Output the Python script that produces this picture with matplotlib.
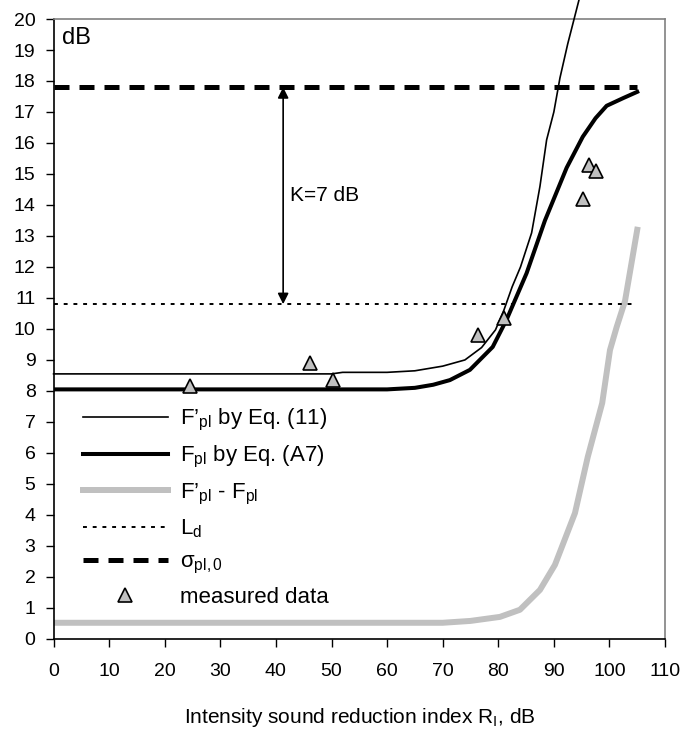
import numpy as np
import matplotlib
matplotlib.use("Agg")
import matplotlib.pyplot as plt

plt.rcParams['font.family'] = ['Liberation Sans', 'DejaVu Sans']
plt.rcParams['mathtext.fontset'] = 'custom'
plt.rcParams['mathtext.rm'] = 'Liberation Sans'
plt.rcParams['mathtext.it'] = 'Liberation Sans:italic'

# F'pl by Eq. (11)
x_thin = [0, 50, 52, 60, 65, 70, 74, 77, 79.5, 81, 82.5, 84, 86, 87.5, 88.7, 90, 91.1, 92.5, 94.5]
y_thin = [8.55, 8.55, 8.6, 8.6, 8.65, 8.8, 9.0, 9.4, 9.97, 10.6, 11.36, 12.0, 13.1, 14.6, 16.1, 17.0, 18.1, 19.2, 20.6]

# Fpl by Eq. (A7)
x_thick = [0, 60, 65, 68.3, 71.3, 74.9, 79, 81.5, 85.1, 88.4, 92.3, 95.2, 97.5, 99.5, 102.5, 105]
y_thick = [8.05, 8.05, 8.1, 8.2, 8.35, 8.68, 9.42, 10.3, 11.8, 13.5, 15.2, 16.2, 16.8, 17.2, 17.45, 17.65]

# F'pl - Fpl
x_diff = [0, 70, 75, 80.3, 83.9, 87.5, 90.2, 93.8, 96.1, 98.7, 100.1, 101.3, 102.8, 105]
y_diff = [0.52, 0.52, 0.58, 0.71, 0.94, 1.58, 2.39, 4.06, 5.87, 7.61, 9.32, 10.06, 10.9, 13.2]

# horizontal levels
ld_level = 10.8
sigma_level = 17.8
x_range = [0, 105]

# measured data
x_meas = [24.5, 46.1, 50.3, 76.4, 81.0, 95.2, 96.3, 97.5]
y_meas = [8.15, 8.9, 8.35, 9.8, 10.35, 14.2, 15.3, 15.1]

fig = plt.figure(figsize=(6.87, 7.31), dpi=100)
ax = fig.add_axes([0.078, 0.126, 0.890, 0.848])

ax.plot(x_thin, y_thin, color='black', lw=1.2, label="F’$_{\\rm pl}$ by Eq. (11)", clip_on=False, zorder=3)
ax.plot(x_thick, y_thick, color='black', lw=2.9, label="F$_{\\rm pl}$ by Eq. (A7)", zorder=3)
ax.plot(x_diff, y_diff, color='#c0c0c0', lw=4.3, label="F’$_{\\rm pl}$ - F$_{\\rm pl}$", zorder=2)
ax.plot(x_range, [ld_level, ld_level], color='black', lw=1.4, dashes=(2, 3), label="L$_{\\rm d}$", zorder=2)
ax.plot(x_range, [sigma_level, sigma_level], color='black', lw=3.6, dashes=(3, 2), label="σ$_{\\rm pl,0}$", zorder=2)
ax.plot(x_meas, y_meas, linestyle='none', marker='^', markersize=10, markerfacecolor='#c0c0c0',
        markeredgecolor='black', markeredgewidth=1.2, label="measured data", zorder=4)

# K arrow
ax.annotate('', xy=(41.3, ld_level), xytext=(41.3, sigma_level),
            arrowprops=dict(arrowstyle='<|-|>', color='black', lw=1.2, mutation_scale=16,
                            shrinkA=0, shrinkB=0))
ax.text(42.6, 14.3, 'K=7 dB', fontsize=15, va='center', ha='left')
ax.text(1.6, 19.4, 'dB', fontsize=17, va='center', ha='left')

ax.set_xlim(0, 110)
ax.set_ylim(0, 20)
ax.set_xticks(np.arange(0, 111, 10))
ax.set_yticks(np.arange(0, 21, 1))
ax.tick_params(axis='both', direction='out', length=6, width=1, labelsize=14)
ax.tick_params(axis='x', pad=11)
ax.tick_params(axis='y', pad=7)

ax.spines['left'].set_color('black')
ax.spines['bottom'].set_color('black')
ax.spines['top'].set_color('#808080')
ax.spines['right'].set_color('#808080')
for s in ax.spines.values():
    s.set_linewidth(1.2)

ax.set_xlabel("Intensity sound reduction index R$_{\\rm I}$, dB", fontsize=15, labelpad=19)

ax.legend(loc='upper left', bbox_to_anchor=(0.048, 0.374), frameon=False, fontsize=16,
          handlelength=3.83, handletextpad=0.54, labelspacing=0.5, borderpad=0, borderaxespad=0)

fig.savefig('out.png', dpi=100)
